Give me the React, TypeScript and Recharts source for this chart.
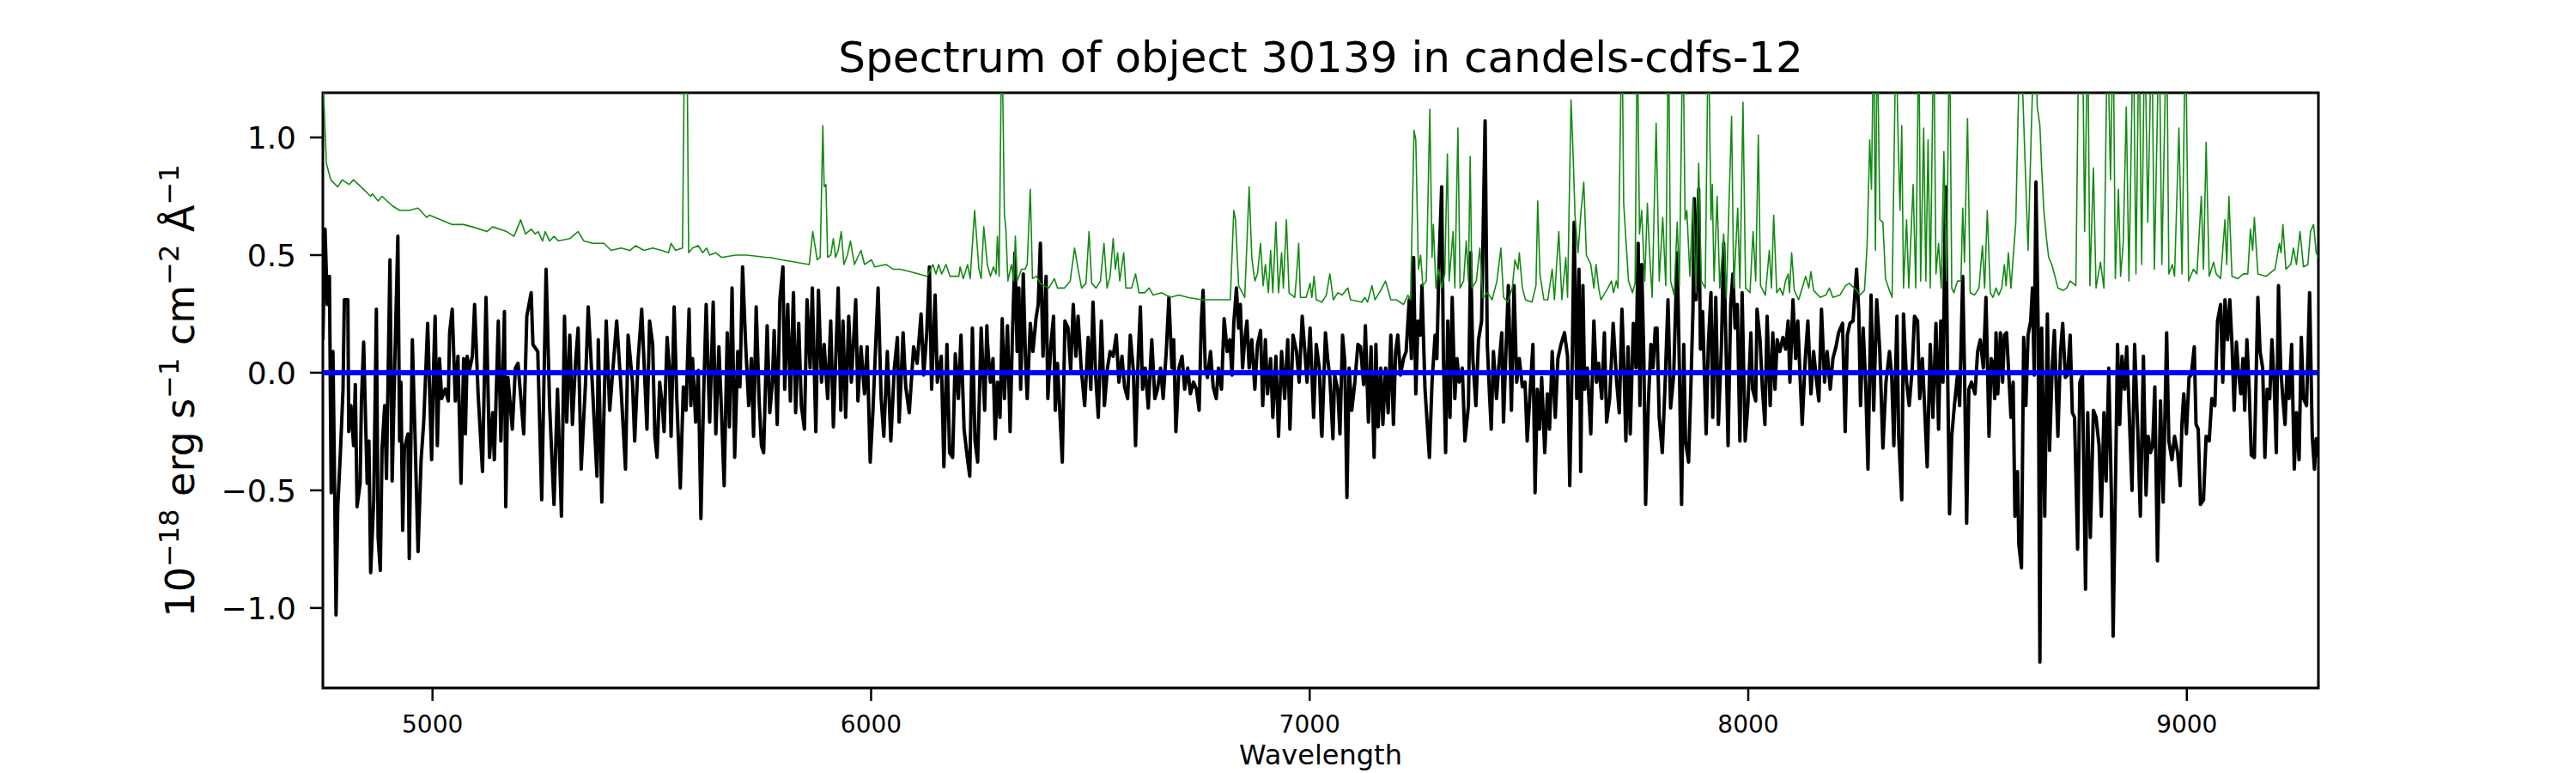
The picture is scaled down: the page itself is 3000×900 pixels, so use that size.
import { LineChart, Line, XAxis, YAxis, ReferenceArea } from 'recharts';

/**
 * Spectrum plot: observed flux (black), model (blue) and noise (green).
 * Values read off the reference figure, wavelength in Angstrom.
 */

const X_DOMAIN: [number, number] = [4750, 9300];
const Y_DOMAIN: [number, number] = [-1.34, 1.19];
const X_TICKS = [5000, 6000, 7000, 8000, 9000];
const Y_TICKS = [-1.0, -0.5, 0.0, 0.5, 1.0];

const TITLE = 'Spectrum of object 30139 in candels-cdfs-12';
const X_LABEL = 'Wavelength';

// [wavelength, flux]
const flux: [number, number][] = [
  [4750, 0.14], [4755, 0.61], [4760, 0.29], [4765, 0.41], [4769, -0.51], [4773, 0.09], [4777, -0.51], [4780, -1.03],
  [4784, -0.57], [4790, -0.34], [4796, -0.07], [4799, 0.31], [4807, 0.31], [4809, -0.25], [4814, -0.14], [4820, -0.31],
  [4824, -0.05], [4828, -0.57], [4835, -0.47], [4838, -0.12], [4843, 0.13], [4851, -0.47], [4855, -0.29], [4859, -0.85],
  [4866, -0.54], [4872, 0.27], [4876, -0.7], [4881, -0.84], [4885, -0.32], [4891, -0.14], [4895, -0.45], [4903, 0.48],
  [4908, -0.46], [4914, 0.04], [4921, 0.58], [4925, -0.29], [4928, -0.04], [4932, -0.67], [4936, -0.32], [4944, -0.26],
  [4947, -0.79], [4954, 0.14], [4960, -0.26], [4967, -0.76], [4974, -0.37], [4980, -0.21], [4989, 0.21], [4998, -0.37],
  [5003, 0.06], [5006, 0.24], [5011, -0.31], [5016, 0.06], [5021, -0.11], [5029, -0.07], [5036, -0.12], [5039, 0.17],
  [5045, 0.27], [5052, -0.12], [5058, 0.07], [5065, -0.47], [5071, 0.06], [5075, -0.26], [5079, 0.07], [5084, 0.01],
  [5091, 0.07], [5096, 0.29], [5104, -0.09], [5114, -0.42], [5122, 0.32], [5130, -0.36], [5137, -0.17], [5141, -0.37],
  [5150, 0.22], [5156, -0.29], [5164, 0.26], [5167, -0.57], [5172, -0.02], [5182, -0.24], [5189, 0.02], [5195, 0.04],
  [5208, -0.26], [5215, 0.24], [5225, 0.34], [5229, 0.12], [5240, 0.09], [5249, -0.54], [5259, 0.44], [5267, -0.14],
  [5277, -0.56], [5285, -0.07], [5294, -0.61], [5301, 0.24], [5306, -0.21], [5313, 0.16], [5319, -0.22], [5326, 0.04],
  [5332, 0.19], [5339, -0.41], [5349, -0.04], [5355, 0.28], [5365, -0.07], [5375, -0.44], [5378, 0.14], [5386, -0.55],
  [5396, 0.22], [5404, -0.16], [5420, 0.22], [5430, -0.07], [5440, -0.41], [5446, 0.16], [5456, -0.04], [5461, -0.29],
  [5469, 0.06], [5477, 0.27], [5489, -0.24], [5495, 0.22],
  [5502, 0.12], [5507, -0.27], [5512, -0.36], [5518, -0.04], [5524, -0.14], [5528, -0.25], [5535, 0.15], [5540, 0.02],
  [5544, -0.27], [5551, 0.28], [5557, -0.11], [5565, -0.49], [5572, -0.06], [5578, -0.16], [5585, 0.27], [5589, -0.14],
  [5593, 0.06], [5600, -0.21], [5606, 0.01], [5612, -0.62], [5618, -0.11], [5624, 0.29], [5632, -0.21], [5640, 0.3],
  [5646, -0.26], [5653, 0.11], [5659, -0.17], [5665, -0.48], [5672, 0.17], [5677, -0.23], [5683, 0.36], [5689, -0.36],
  [5696, 0.09], [5701, -0.06], [5707, 0.45], [5714, 0.12], [5721, -0.14], [5727, 0.06], [5732, -0.27], [5738, 0.28],
  [5745, -0.13], [5750, -0.31], [5755, -0.34], [5763, 0.2], [5769, -0.17], [5775, -0.04], [5779, 0.18], [5786, -0.22],
  [5792, 0.31], [5799, 0.45], [5803, -0.07], [5810, 0.29], [5816, -0.12], [5823, 0.34], [5828, -0.17], [5835, 0.21],
  [5841, -0.14], [5848, -0.24], [5854, 0.31], [5861, 0.02], [5866, 0.36], [5874, -0.25], [5880, 0.35], [5887, -0.04],
  [5893, 0.12], [5901, -0.11], [5908, 0.22], [5914, -0.23], [5925, 0.36], [5931, -0.16], [5936, 0.22], [5942, -0.19],
  [5949, 0.24], [5955, -0.04], [5965, 0.31], [5970, -0.12], [5977, 0.11], [5985, -0.09], [5991, 0.11], [5998, -0.38],
  [6004, -0.17], [6016, 0.36], [6023, -0.11], [6029, -0.27], [6037, 0.09], [6045, -0.29], [6053, 0.02], [6060, 0.15],
  [6064, -0.21], [6073, 0.17], [6079, -0.06], [6087, -0.17], [6097, 0.11], [6105, 0.04], [6114, 0.25], [6120, -0.01],
  [6127, 0.17], [6133, 0.45], [6138, -0.07], [6146, 0.33], [6151, -0.04], [6160, 0.07], [6166, -0.4], [6173, 0.12],
  [6179, -0.34], [6186, -0.36], [6192, 0.08], [6199, -0.11], [6205, 0.16], [6212, -0.24], [6220, -0.37], [6225, -0.44],
  [6231, 0.19], [6237, -0.29], [6243, -0.38], [6251, 0.19], [6259, -0.16], [6264, 0.2],
  [6265, 0.14], [6272, -0.04], [6278, 0.06], [6283, -0.28], [6288, -0.04], [6294, -0.19], [6299, 0.23], [6304, -0.11],
  [6311, 0.2], [6317, -0.25], [6322, 0.14], [6328, 0.51], [6333, 0.09], [6337, 0.36], [6341, -0.07], [6347, 0.42],
  [6352, 0.06], [6356, -0.11], [6363, 0.21], [6369, 0.09], [6376, 0.23], [6381, 0.29], [6386, 0.55], [6392, 0.07],
  [6399, 0.41], [6403, -0.11], [6410, 0.12], [6416, 0.24], [6420, -0.16], [6425, 0.04], [6431, -0.19], [6436, -0.38],
  [6442, 0.22], [6449, 0.19], [6455, 0.01], [6461, 0.29], [6467, 0.07], [6472, 0.24], [6479, 0.02], [6487, -0.14],
  [6495, 0.15], [6501, -0.07], [6506, 0.3], [6512, -0.01], [6518, -0.19], [6525, 0.22], [6532, -0.14], [6539, 0.02],
  [6545, 0.09], [6552, 0.07], [6559, 0.16], [6565, -0.04], [6572, 0.07], [6578, -0.06], [6585, -0.11], [6591, 0.16],
  [6598, 0.01], [6603, -0.31], [6609, 0.06], [6614, 0.28], [6619, -0.07], [6625, 0.02], [6632, -0.15], [6640, 0.14],
  [6647, -0.11], [6653, -0.07], [6660, 0.02], [6666, -0.11], [6673, 0.09], [6679, 0.32], [6686, 0.02], [6690, 0.14],
  [6695, -0.25], [6702, 0.02], [6709, 0.07], [6715, -0.07], [6722, 0.02], [6728, -0.09], [6735, -0.04], [6742, -0.07],
  [6748, -0.16], [6753, 0.22], [6757, 0.35], [6762, 0.02], [6767, -0.02], [6774, 0.09], [6780, -0.06], [6787, -0.11],
  [6792, 0.02], [6799, -0.07], [6805, 0.23], [6812, 0.09], [6818, 0.14], [6823, -0.01], [6827, 0.21], [6833, 0.36],
  [6838, 0.19], [6842, 0.29], [6847, 0.02], [6852, 0.14], [6857, 0.22], [6862, 0.02], [6868, 0.14], [6875, -0.07],
  [6881, 0.12], [6888, 0.18], [6893, -0.14], [6899, 0.14], [6904, -0.09], [6911, 0.06], [6916, -0.19], [6923, 0.07],
  [6929, -0.27], [6936, 0.09], [6943, -0.11], [6950, 0.14], [6955, -0.24], [6962, 0.16], [6970, 0.09], [6976, -0.04],
  [6983, 0.24], [6989, 0.09], [6994, -0.04], [7001, 0.19], [7009, -0.19], [7015, 0.12], [7022, 0.02], [7027, -0.26],
  [7028, -0.27], [7036, 0.17], [7041, 0.06], [7046, -0.02], [7053, -0.28], [7057, -0.01], [7064, -0.07], [7069, -0.26],
  [7075, 0.16], [7080, 0.05], [7085, -0.53], [7090, 0.02], [7096, -0.16], [7103, -0.04], [7110, 0.12], [7116, 0.11],
  [7123, -0.05], [7127, 0.2], [7134, -0.21], [7140, 0.11], [7147, -0.36], [7151, 0.12], [7156, -0.23], [7162, 0.02],
  [7167, -0.22], [7173, 0.02], [7179, -0.17], [7185, 0.16], [7191, -0.22], [7196, 0.09], [7201, 0.16], [7207, -0.01],
  [7214, 0.06], [7220, 0.09], [7227, 0.31], [7232, 0.06], [7237, 0.49], [7242, -0.09], [7247, 0.22], [7253, 0.16],
  [7256, 0.37], [7263, -0.07], [7273, -0.36], [7279, -0.04], [7286, 0.16], [7290, 0.06], [7295, 0.47], [7301, 0.79],
  [7305, 0.06], [7310, -0.34], [7315, 0.22], [7320, -0.19], [7325, 0.32], [7331, -0.11], [7336, 0.06], [7341, -0.04],
  [7348, 0.02], [7354, -0.29], [7362, -0.14], [7367, 0.51], [7372, 0.06], [7379, -0.14], [7385, 0.14], [7392, 0.22],
  [7400, 1.07], [7405, 0.12], [7410, -0.09], [7414, -0.24], [7419, 0.09], [7426, -0.11], [7431, 0.02], [7438, 0.17],
  [7442, -0.21], [7447, 0.06], [7453, 0.37], [7460, -0.16], [7466, 0.37], [7472, -0.04], [7478, 0.06], [7485, -0.06],
  [7491, -0.04], [7496, -0.29], [7503, -0.07], [7509, 0.12], [7514, -0.51], [7519, -0.07], [7524, -0.24], [7529, -0.02],
  [7536, -0.34], [7542, -0.09], [7547, -0.24], [7553, 0.09], [7560, -0.19], [7566, 0.06], [7573, 0.12], [7581, 0.17],
  [7588, 0.07], [7593, -0.48], [7599, 0.09], [7603, 0.64], [7609, -0.11], [7614, 0.44], [7618, -0.42], [7623, 0.37],
  [7627, -0.07], [7633, 0.02], [7641, -0.26], [7648, 0.22], [7654, -0.04], [7659, 0.04], [7666, -0.11], [7672, 0.17],
  [7677, -0.21], [7684, -0.11], [7692, 0.21], [7700, -0.04], [7706, -0.17], [7712, 0.27], [7716, 0.06], [7721, -0.29],
  [7726, 0.11], [7731, -0.26], [7738, 0.21], [7744, 0.02], [7749, 0.55], [7753, -0.14], [7757, 0.46], [7762, 0.06],
  [7766, -0.56], [7772, -0.14], [7778, 0.12], [7783, 0.02], [7788, 0.19],
  [7792, 0.19], [7797, -0.19], [7804, -0.34], [7810, -0.07], [7817, 0.31], [7823, -0.15], [7830, -0.01], [7838, 0.51],
  [7843, 0.02], [7848, -0.56], [7853, 0.12], [7857, -0.29], [7864, -0.38], [7869, -0.07], [7874, 0.27], [7877, 0.74],
  [7881, 0.31], [7887, 0.78], [7891, 0.1], [7896, 0.26], [7904, -0.26], [7909, 0.12], [7915, 0.34], [7919, -0.19],
  [7926, 0.32], [7932, -0.22], [7939, 0.12], [7944, 0.55], [7949, 0.14], [7954, -0.31], [7960, 0.29], [7965, 0.42],
  [7970, 0.19], [7975, 0.29], [7981, -0.29], [7986, 0.34], [7993, -0.29], [7999, -0.14], [8006, 0.17], [8010, -0.07],
  [8017, -0.12], [8020, 0.27], [8027, 0.14], [8032, -0.06], [8038, -0.22], [8043, 0.24], [8050, -0.14], [8056, 0.17],
  [8061, -0.07], [8066, 0.14], [8072, 0.09], [8079, 0.15], [8085, 0.1], [8091, 0.22], [8095, -0.04], [8102, 0.31],
  [8108, 0.06], [8113, 0.22], [8118, -0.01], [8123, -0.22], [8130, 0.06], [8136, 0.22], [8143, -0.09], [8149, 0.09],
  [8156, -0.04], [8161, -0.12], [8167, 0.27], [8174, -0.04], [8180, 0.09], [8187, -0.07], [8193, 0.06], [8200, 0.11],
  [8206, 0.17], [8215, 0.21], [8221, -0.25], [8226, 0.16], [8232, 0.21], [8239, 0.22], [8247, 0.44], [8252, 0.26],
  [8256, -0.14], [8262, 0.19], [8268, -0.06], [8273, -0.41], [8280, 0.33], [8286, -0.16], [8293, 0.31], [8300, 0.09],
  [8307, -0.32], [8314, -0.04], [8322, 0.09], [8327, -0.01], [8332, -0.31], [8339, 0.24], [8343, -0.27], [8350, -0.54],
  [8354, 0.25], [8361, -0.04], [8367, -0.14], [8374, 0.02], [8379, 0.24], [8386, 0.22], [8391, -0.11], [8397, 0.06],
  [8402, -0.14], [8408, -0.4], [8415, 0.12], [8421, -0.19], [8428, 0.21], [8434, -0.24], [8439, 0.22], [8444, -0.04],
  [8450, 0.79], [8454, 0.09], [8459, -0.6], [8464, -0.27], [8470, -0.14], [8477, -0.01], [8482, -0.14], [8489, 0.41],
  [8493, 0.02], [8498, -0.64], [8503, -0.07], [8509, -0.04], [8517, -0.09], [8523, 0.09], [8529, 0.14], [8536, 0.02],
  [8542, 0.32], [8549, -0.27], [8554, 0.06],
  [8558, 0.04], [8562, -0.11], [8565, 0.17], [8569, -0.09], [8575, 0.17], [8580, -0.04], [8584, 0.16], [8589, 0.17],
  [8595, -0.04], [8599, -0.19], [8604, -0.04], [8608, -0.61], [8614, -0.42], [8617, -0.73], [8623, -0.83], [8628, 0.15],
  [8633, -0.14], [8638, 0.16], [8644, 0.22], [8648, 0.36], [8652, -0.01], [8656, 0.81], [8661, 0.19], [8665, -1.23],
  [8669, 0.19], [8676, -0.61], [8682, 0.25], [8687, -0.33], [8693, 0.02], [8698, 0.18], [8706, -0.27], [8712, 0.09],
  [8717, 0.21], [8723, -0.02], [8728, -0.01], [8734, 0.16], [8739, -0.17], [8744, -0.19], [8751, -0.75], [8756, -0.04],
  [8762, -0.01], [8769, -0.92], [8774, -0.17], [8780, -0.7], [8787, -0.16], [8793, -0.19], [8800, -0.31], [8805, -0.61],
  [8811, -0.17], [8816, -0.46], [8822, 0.02], [8828, -0.52], [8832, -1.12], [8837, -0.51], [8842, 0.12], [8847, -0.22],
  [8852, 0.07], [8858, -0.07], [8863, 0.11], [8868, -0.14], [8875, -0.5], [8881, 0.12], [8888, -0.24], [8894, -0.61],
  [8901, 0.07], [8907, -0.52], [8912, -0.27], [8917, -0.34], [8922, -0.31], [8927, -0.06], [8933, -0.8], [8940, -0.12],
  [8946, -0.55], [8954, 0.17], [8959, -0.29], [8966, -0.37], [8972, -0.27], [8979, -0.34], [8985, -0.48], [8989, -0.21],
  [8993, -0.09], [8999, -0.26], [9005, -0.02], [9010, -0.01], [9017, 0.11], [9021, -0.22], [9026, -0.24], [9031, -0.56],
  [9038, -0.54], [9044, -0.27], [9051, -0.29], [9057, -0.11], [9064, -0.14], [9070, 0.22], [9077, 0.29], [9082, -0.04],
  [9087, 0.31], [9093, 0.14], [9098, 0.31], [9103, 0.12], [9108, -0.16], [9113, 0.13], [9117, 0.02], [9123, -0.09],
  [9128, 0.06], [9132, -0.16], [9137, 0.14], [9142, -0.06], [9147, -0.35], [9154, -0.36], [9162, 0.32], [9167, 0.09],
  [9173, 0.02], [9178, -0.36], [9183, -0.07], [9189, -0.11], [9194, 0.14], [9199, -0.04], [9204, -0.34], [9209, 0.37],
  [9214, 0.02], [9219, -0.11], [9224, -0.22], [9228, -0.01], [9233, -0.11], [9239, 0.12], [9245, -0.41], [9250, -0.17],
  [9256, -0.37], [9261, 0.15], [9266, -0.11], [9273, -0.14], [9280, 0.34], [9286, -0.27], [9291, -0.41], [9295, -0.28],
  [9300, -0.36],
];

// [wavelength, noise]; sky lines run off the top of the axes
const noise: [number, number][] = [
  [4750, 1.25], [4752, 1.17], [4758, 0.89], [4768, 0.82], [4784, 0.79], [4794, 0.82], [4810, 0.8], [4820, 0.82],
  [4837, 0.79], [4859, 0.75], [4863, 0.76], [4876, 0.73], [4885, 0.75], [4908, 0.71], [4925, 0.69], [4947, 0.69],
  [4967, 0.7], [4987, 0.66], [4993, 0.67], [5019, 0.65], [5045, 0.63], [5071, 0.63], [5091, 0.62], [5124, 0.6],
  [5137, 0.62], [5169, 0.6], [5186, 0.58], [5201, 0.65], [5212, 0.59], [5225, 0.61], [5234, 0.59], [5241, 0.6],
  [5251, 0.56], [5257, 0.6], [5267, 0.56], [5277, 0.58], [5287, 0.56], [5313, 0.57], [5332, 0.6], [5345, 0.56],
  [5365, 0.55], [5391, 0.55], [5407, 0.52], [5430, 0.53], [5450, 0.52], [5463, 0.54], [5482, 0.52],
  [5502, 0.53], [5522, 0.52], [5538, 0.51], [5544, 0.55], [5554, 0.52], [5570, 0.53], [5575, 1.5], [5580, 1.5],
  [5584, 0.51], [5593, 0.53], [5606, 0.54], [5616, 0.51], [5625, 0.53], [5632, 0.5], [5646, 0.51], [5659, 0.49],
  [5691, 0.5], [5717, 0.5], [5763, 0.49], [5769, 0.49], [5796, 0.48], [5828, 0.47], [5859, 0.46], [5867, 0.6],
  [5877, 0.48], [5884, 0.49], [5890, 1.05], [5893, 0.79], [5897, 0.8], [5901, 0.49], [5908, 0.5], [5914, 0.57],
  [5919, 0.49], [5925, 0.52], [5932, 0.6], [5938, 0.46], [5946, 0.5], [5953, 0.56], [5962, 0.46], [5977, 0.52],
  [5985, 0.46], [6001, 0.48], [6008, 0.45], [6034, 0.46], [6050, 0.44], [6066, 0.44], [6089, 0.43], [6128, 0.41],
  [6141, 0.46], [6148, 0.42], [6154, 0.46], [6161, 0.42], [6171, 0.46], [6180, 0.41], [6200, 0.41], [6203, 0.45],
  [6210, 0.4], [6220, 0.46], [6226, 0.4], [6236, 0.69], [6246, 0.44], [6251, 0.4], [6257, 0.62],
  [6265, 0.46], [6272, 0.41], [6279, 0.45], [6285, 0.42], [6288, 0.58], [6292, 0.41], [6298, 1.5], [6304, 0.67],
  [6307, 0.62], [6312, 0.39], [6320, 0.46], [6325, 0.39], [6329, 0.58], [6333, 0.39], [6343, 0.44], [6351, 0.44],
  [6356, 0.46], [6363, 0.78], [6368, 0.4], [6377, 0.41], [6386, 0.38], [6395, 0.37], [6405, 0.36], [6418, 0.4],
  [6425, 0.36], [6441, 0.36], [6454, 0.39], [6464, 0.53], [6472, 0.44], [6480, 0.36], [6490, 0.38], [6497, 0.6],
  [6503, 0.38], [6513, 0.36], [6523, 0.39], [6531, 0.55], [6538, 0.36], [6545, 0.41], [6552, 0.57], [6557, 0.44],
  [6562, 0.51], [6567, 0.39], [6576, 0.51], [6581, 0.36], [6594, 0.36], [6603, 0.42], [6611, 0.34], [6624, 0.34],
  [6634, 0.36], [6643, 0.33], [6663, 0.34], [6682, 0.32], [6702, 0.33], [6722, 0.32], [6754, 0.31], [6787, 0.31],
  [6819, 0.31], [6827, 0.69], [6831, 0.65], [6838, 0.37], [6852, 0.32], [6862, 0.79], [6868, 0.49], [6875, 0.39],
  [6881, 0.42], [6888, 0.55], [6894, 0.37], [6899, 0.46], [6906, 0.34], [6911, 0.52], [6916, 0.34], [6923, 0.64],
  [6929, 0.34], [6936, 0.51], [6940, 0.36], [6947, 0.65], [6953, 0.34], [6966, 0.32], [6970, 0.41], [6975, 0.55],
  [6979, 0.32], [6992, 0.32], [7001, 0.38], [7005, 0.32], [7010, 0.41], [7015, 0.31],
  [7028, 0.3], [7038, 0.33], [7046, 0.42], [7054, 0.31], [7064, 0.34], [7074, 0.33], [7087, 0.36], [7093, 0.31],
  [7119, 0.3], [7126, 0.32], [7132, 0.3], [7142, 0.37], [7149, 0.31], [7162, 0.35], [7173, 0.39], [7185, 0.31],
  [7198, 0.31], [7214, 0.29], [7224, 0.33], [7230, 0.31], [7238, 1.03], [7242, 0.99], [7248, 0.44], [7253, 0.5],
  [7258, 0.37], [7266, 0.39], [7274, 1.12], [7279, 0.49], [7282, 0.63], [7288, 0.36], [7294, 0.44], [7301, 0.36],
  [7308, 0.42], [7314, 0.93], [7318, 0.39], [7327, 0.6], [7331, 0.36], [7338, 1.04], [7343, 0.36], [7351, 0.39],
  [7357, 0.56], [7362, 0.39], [7366, 0.92], [7370, 0.36], [7380, 0.39], [7388, 0.53], [7395, 0.32], [7406, 0.34],
  [7416, 0.31], [7427, 0.39], [7436, 0.53], [7442, 0.32], [7452, 0.3], [7462, 0.36], [7468, 0.48], [7475, 0.44],
  [7478, 0.51], [7485, 0.36], [7492, 0.31], [7507, 0.3], [7516, 0.37], [7520, 0.73], [7525, 0.42], [7534, 0.31],
  [7543, 0.31], [7553, 0.44], [7558, 0.31], [7568, 0.6], [7575, 0.31], [7584, 0.49], [7588, 0.32], [7596, 1.16],
  [7601, 0.91], [7605, 0.67], [7612, 0.51], [7618, 0.67], [7625, 0.81], [7631, 0.5], [7641, 0.46], [7648, 0.36],
  [7653, 0.46], [7659, 0.36], [7664, 0.31], [7680, 0.36], [7688, 0.39], [7693, 0.34], [7699, 0.39], [7703, 0.36],
  [7712, 1.5], [7716, 0.72], [7721, 0.57], [7727, 0.39], [7736, 0.34], [7742, 0.38], [7747, 1.5], [7752, 0.59],
  [7757, 0.69], [7764, 0.39], [7770, 0.72], [7775, 0.51], [7781, 0.32], [7790, 1.06],
  [7797, 0.39], [7805, 0.66], [7812, 0.37], [7818, 1.5], [7823, 0.39], [7831, 0.33], [7838, 0.64], [7843, 0.37],
  [7851, 1.5], [7856, 0.65], [7860, 0.69], [7867, 0.41], [7874, 0.74], [7881, 0.34], [7887, 0.89], [7893, 0.39],
  [7902, 0.36], [7909, 1.5], [7915, 0.65], [7918, 0.8], [7922, 0.39], [7929, 0.75], [7935, 0.36], [7944, 0.59],
  [7950, 0.32], [7962, 1.09], [7967, 0.36], [7976, 0.7], [7981, 0.36], [7988, 1.15], [7994, 0.36], [8004, 0.34],
  [8011, 0.6], [8017, 0.39], [8023, 1.01], [8028, 0.37], [8039, 0.33], [8048, 0.52], [8053, 0.36], [8058, 0.67],
  [8065, 0.34], [8072, 0.36], [8079, 0.33], [8085, 0.39], [8091, 0.42], [8094, 0.34], [8099, 0.51], [8105, 0.35],
  [8115, 0.31], [8131, 0.41], [8138, 0.36], [8143, 0.43], [8149, 0.35], [8164, 0.32], [8177, 0.33], [8185, 0.36],
  [8193, 0.32], [8209, 0.33], [8222, 0.37], [8230, 0.38], [8242, 0.36], [8255, 0.33], [8265, 0.35], [8271, 0.54],
  [8277, 0.99], [8281, 0.78], [8286, 1.5], [8290, 0.52], [8294, 1.5], [8300, 0.65], [8307, 0.64], [8313, 0.4],
  [8320, 0.36], [8328, 0.32], [8337, 1.5], [8341, 1.05], [8346, 0.69], [8350, 1.05], [8354, 0.36], [8361, 0.65],
  [8366, 0.36], [8376, 0.8], [8382, 0.36], [8389, 1.5], [8393, 0.39], [8400, 1.04], [8405, 0.39], [8410, 0.99],
  [8415, 0.36], [8423, 1.5], [8428, 0.42], [8434, 0.55], [8440, 0.36], [8446, 0.94], [8452, 0.39], [8459, 1.5],
  [8464, 0.36], [8469, 0.34], [8477, 0.39], [8485, 0.39], [8489, 0.7], [8493, 0.47], [8500, 1.08], [8506, 0.34],
  [8516, 0.33], [8526, 0.36], [8534, 0.54], [8539, 0.36], [8545, 0.69], [8552, 0.34],
  [8558, 0.32], [8565, 0.36], [8571, 0.33], [8578, 0.36], [8584, 0.46], [8588, 0.37], [8593, 0.51], [8599, 0.36],
  [8610, 0.64], [8620, 1.5], [8627, 1.13], [8638, 0.52], [8646, 1.07], [8653, 1.5], [8659, 1.13], [8665, 1.05],
  [8669, 0.87], [8674, 0.69], [8680, 0.57], [8685, 0.49], [8692, 0.46], [8698, 0.42], [8706, 0.36], [8718, 0.35],
  [8726, 0.36], [8734, 0.39], [8747, 0.37], [8754, 1.5], [8762, 1.5], [8767, 0.6], [8774, 1.5], [8779, 0.37],
  [8787, 0.87], [8793, 0.36], [8803, 0.47], [8811, 0.36], [8819, 1.5], [8826, 0.82], [8832, 1.5], [8837, 0.4],
  [8844, 0.78], [8849, 0.41], [8855, 0.55], [8862, 1.13], [8868, 0.39], [8878, 1.5], [8884, 0.42], [8891, 1.5],
  [8897, 0.46], [8904, 1.5], [8911, 0.64], [8920, 1.5], [8926, 0.44], [8937, 1.5], [8943, 0.46], [8954, 1.5],
  [8959, 0.42], [8967, 0.46], [8972, 0.41], [8982, 1.04], [8989, 0.42], [8997, 1.5], [9004, 0.39], [9015, 0.44],
  [9023, 0.42], [9033, 0.75], [9038, 0.44], [9044, 0.98], [9051, 0.41], [9061, 0.47], [9067, 0.42], [9077, 0.4],
  [9087, 0.65], [9091, 0.46], [9096, 0.75], [9103, 0.41], [9116, 0.4], [9129, 0.42], [9139, 0.42], [9145, 0.61],
  [9150, 0.52], [9154, 0.66], [9162, 0.42], [9181, 0.41], [9201, 0.44], [9211, 0.55], [9215, 0.51], [9219, 0.63],
  [9226, 0.44], [9237, 0.46], [9243, 0.53], [9250, 0.46], [9258, 0.6], [9266, 0.45], [9276, 0.46], [9282, 0.6],
  [9289, 0.63], [9295, 0.51], [9300, 0.49],
];

// flat model
const model: [number, number][] = [
  [4750, 0],
  [9300, 0],
];

const FONT = '"DejaVu Sans", "Liberation Sans", sans-serif';

const toRows = (pts: [number, number][]) => pts.map(([wave, value]) => ({ wave, value }));

function formatTick(v: number) {
  return v.toFixed(1).replace('-', '\u2212');
}

export default function App() {
  const fluxRows = toRows(flux);
  const noiseRows = toRows(noise);
  const modelRows = toRows(model);

  return (
    <div style={{ position: 'absolute', left: 0, top: 0, width: 3000, height: 900, background: '#fff' }}>
      <LineChart
        width={3000}
        height={900}
        margin={{ top: 108, right: 300, bottom: 29, left: 256 }}
      >
        <XAxis
          dataKey="wave"
          type="number"
          domain={X_DOMAIN}
          ticks={X_TICKS}
          interval={0}
          allowDataOverflow
          height={70}
          axisLine={false}
          tickSize={15}
          tickMargin={17}
          tickLine={{ stroke: '#000', strokeWidth: 2.5 }}
          tick={{ fill: '#000', fontSize: 28, fontFamily: FONT }}
        />
        <YAxis
          type="number"
          domain={Y_DOMAIN}
          ticks={Y_TICKS}
          interval={0}
          allowDataOverflow
          width={120}
          axisLine={false}
          tickSize={15}
          tickMargin={16}
          tickLine={{ stroke: '#000', strokeWidth: 2.5 }}
          tick={{ fill: '#000', fontSize: 36, fontFamily: FONT }}
          tickFormatter={formatTick}
        />
        <Line
          data={fluxRows}
          dataKey="value"
          type="linear"
          stroke="#000000"
          strokeWidth={4}
          strokeLinejoin="round"
          dot={false}
          activeDot={false}
          isAnimationActive={false}
        />
        <Line
          data={modelRows}
          dataKey="value"
          type="linear"
          stroke="#0000ff"
          strokeWidth={6}
          dot={false}
          activeDot={false}
          isAnimationActive={false}
        />
        <Line
          data={noiseRows}
          dataKey="value"
          type="linear"
          stroke="#138a13"
          strokeWidth={1.6}
          strokeLinejoin="round"
          dot={false}
          activeDot={false}
          isAnimationActive={false}
        />
        <ReferenceArea
          x1={X_DOMAIN[0]}
          x2={X_DOMAIN[1]}
          y1={Y_DOMAIN[0]}
          y2={Y_DOMAIN[1]}
          fill="none"
          stroke="#000"
          strokeWidth={3}
        />
      </LineChart>

      <svg
        width={3000}
        height={900}
        style={{ position: 'absolute', left: 0, top: 0, pointerEvents: 'none' }}
        fontFamily={FONT}
      >
        <text x={1538} y={84} textAnchor="middle" fontSize={50} fill="#000">
          {TITLE}
        </text>
        <text x={1538} y={890} textAnchor="middle" fontSize={32} fill="#000">
          {X_LABEL}
        </text>
        <text transform="translate(226,455) rotate(-90)" textAnchor="middle" fontSize={46} fill="#000">
          10
          <tspan dy={-18} fontSize={32}>{'\u221218'}</tspan>
          <tspan dy={18}>{' erg s'}</tspan>
          <tspan dy={-18} fontSize={32}>{'\u22121'}</tspan>
          <tspan dy={18}>{' cm'}</tspan>
          <tspan dy={-18} fontSize={32}>{'\u22122'}</tspan>
          <tspan dy={18}>{' \u00c5'}</tspan>
          <tspan dy={-18} fontSize={32}>{'\u22121'}</tspan>
        </text>
      </svg>
    </div>
  );
}
